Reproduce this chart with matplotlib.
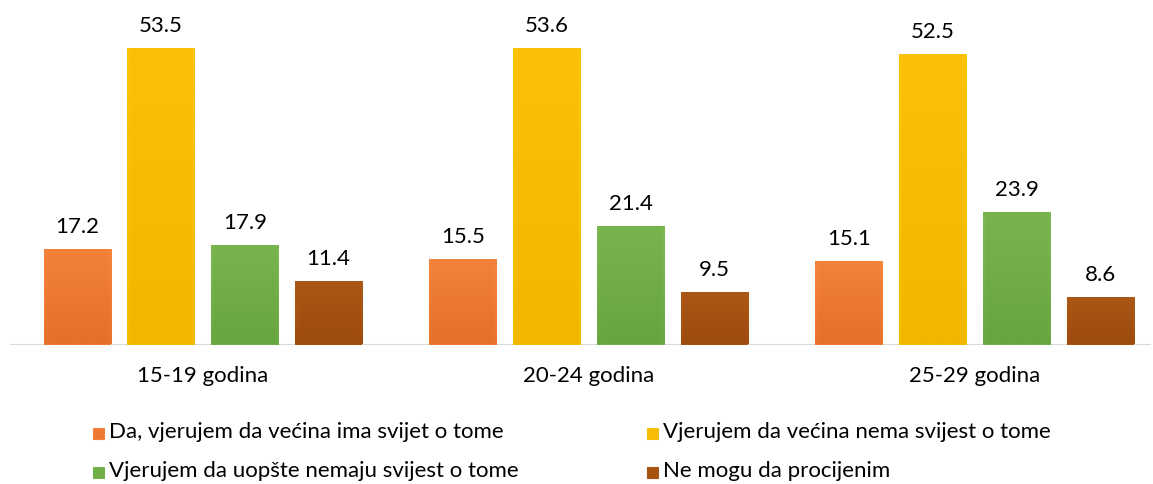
import numpy as np
import matplotlib
matplotlib.use("Agg")
import matplotlib.pyplot as plt
from matplotlib.patches import Rectangle
from matplotlib.transforms import blended_transform_factory

categories = ["15-19 godina", "20-24 godina", "25-29 godina"]
series_names = [
    "Da, vjerujem da većina ima svijet o tome",
    "Vjerujem da većina nema svijest o tome",
    "Vjerujem da uopšte nemaju svijest o tome",
    "Ne mogu da procijenim",
]
values = [
    [17.2, 15.5, 15.1],
    [53.5, 53.6, 52.5],
    [17.9, 21.4, 23.9],
    [11.4, 9.5, 8.6],
]
top_colors = ["#F2823A", "#FBC00A", "#78B44E", "#AA5616"]
bottom_colors = ["#E4702A", "#F2B600", "#67A540", "#9C4C0E"]
base_colors = ["#EC7A30", "#F7BC04", "#70AE48", "#A5520F"]

W, H = 1153, 484
fig = plt.figure(figsize=(W / 100, H / 100), dpi=100)
plt.rcParams['font.family'] = ['Lato', 'DejaVu Sans']

base_px = 344.5
ax = fig.add_axes([10 / W, (H - base_px) / H, (1151 - 10) / W, base_px / H])
ax.set_xlim(-0.5, 2.456)
ax.set_ylim(0, 62.2)
ax.axis('off')

# baseline
ax.axhline(0, color="#D9D9D9", lw=1.5, zorder=1)

n = len(series_names)
spacing = 0.2168
bw = 0.176
x = np.arange(len(categories))
FS = 16

def hex2rgb(h):
    return np.array(matplotlib.colors.to_rgb(h))

for i in range(n):
    off = (i - (n - 1) / 2) * spacing
    bars = ax.bar(x + off, values[i], width=bw, color=base_colors[i],
                  edgecolor="none", zorder=2)
    c_top = hex2rgb(top_colors[i])
    c_bot = hex2rgb(bottom_colors[i])
    for b in bars:
        x0, y0, w, h = b.get_x(), b.get_y(), b.get_width(), b.get_height()
        t = np.linspace(0, 1, 64)[:, None]
        grad = (c_top[None, :] * (1 - t) + c_bot[None, :] * t)[:, None, :]
        hx = np.linspace(0, 1, 48)
        edge = np.clip(1 - np.minimum(hx, 1 - hx) / 0.05, 0, 1)[None, :, None]
        img = grad * np.ones((1, 48, 1))
        img = img * (1 - 0.3 * edge) + 0.3 * edge * np.clip(img * 1.1, 0, 1)
        im = ax.imshow(img, extent=[x0, x0 + w, y0, y0 + h], aspect='auto',
                       zorder=3, interpolation='bilinear')
        im.set_clip_path(b)
        ax.annotate(f"{b.get_height():.1f}", (x0 + w / 2, y0 + h),
                    xytext=(0, 11.5), textcoords='offset points',
                    ha='center', va='baseline', fontsize=FS, color='#000000',
                    zorder=4)

trans = blended_transform_factory(ax.transData, fig.transFigure)
for xi, cat in zip(x, categories):
    ax.text(xi, (H - 382) / H, cat, transform=trans, ha='center',
            va='baseline', fontsize=FS, color='#000000')

# legend (manual, 2 columns)
marker_x = [93, 647]
text_x = [109, 663]
row_base = [438, 477]
ms = 11
for i, name in enumerate(series_names):
    col = i % 2
    row = i // 2
    mx = marker_x[col]
    by = row_base[row]
    fig.patches.append(Rectangle((mx / W, (H - by - 1) / H), ms / W, ms / H,
                                 transform=fig.transFigure,
                                 facecolor=base_colors[i],
                                 edgecolor=top_colors[i], lw=0.8))
    fig.text(text_x[col] / W, (H - by) / H, name, ha='left', va='baseline',
             fontsize=FS, color='#000000')

fig.savefig("out.png", dpi=100)
